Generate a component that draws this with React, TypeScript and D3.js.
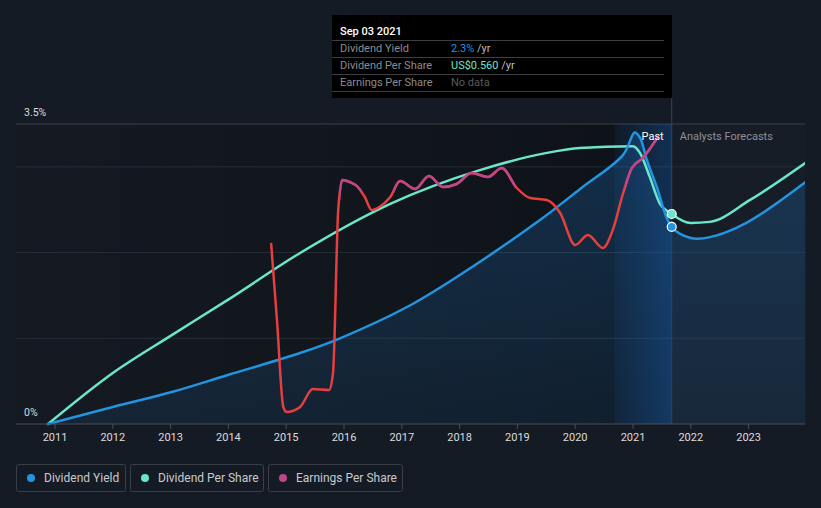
import React from "react";
import * as d3 from "d3";

const W = 821;
const H = 508;

const yearTicks = [2011, 2012, 2013, 2014, 2015, 2016, 2017, 2018, 2019, 2020, 2021, 2022, 2023];

// Dividend Yield (%)
const yieldDates = [2010.88, 2012.0, 2013.02, 2013.99, 2015.24, 2015.93, 2017.09, 2017.95, 2019.39, 2020.08, 2020.83, 2021.03, 2021.12, 2021.24, 2021.41, 2021.67, 2022.0, 2022.33, 2022.97, 2023.98];
const yieldValues = [0, 0.198, 0.373, 0.572, 0.828, 1.0, 1.365, 1.715, 2.38, 2.74, 3.14, 3.4, 3.34, 3.08, 2.77, 2.3, 2.17, 2.18, 2.35, 2.82];

// Dividend Per Share (US$)
const dpsDates = [2010.88, 2012.0, 2013.02, 2013.99, 2015.24, 2016.8, 2018.35, 2019.51, 2020.08, 2021.0, 2021.12, 2021.29, 2021.46, 2021.67, 2022.0, 2022.33, 2023.02, 2023.98];
const dpsValues = [0, 0.136, 0.237, 0.331, 0.456, 0.587, 0.677, 0.723, 0.736, 0.741, 0.723, 0.659, 0.589, 0.56, 0.536, 0.539, 0.597, 0.696];

// Earnings Per Share
const epsDates = [2014.74, 2014.84, 2014.95, 2015.01, 2015.24, 2015.46, 2015.74, 2015.81, 2015.9, 2015.97, 2016.1, 2016.24, 2016.36, 2016.48, 2016.61, 2016.8, 2016.97, 2017.23, 2017.47, 2017.71, 2017.95, 2018.21, 2018.49, 2018.73, 2018.99, 2019.22, 2019.51, 2019.74, 2020.0, 2020.22, 2020.48, 2020.65, 2020.83, 2020.98, 2021.17, 2021.43];
const epsValues = [1.8, 1.04, 0.17, 0.12, 0.17, 0.35, 0.34, 0.51, 2.14, 2.44, 2.42, 2.37, 2.27, 2.14, 2.17, 2.27, 2.43, 2.35, 2.48, 2.37, 2.4, 2.51, 2.47, 2.56, 2.36, 2.26, 2.24, 2.11, 1.79, 1.89, 1.76, 1.94, 2.31, 2.56, 2.66, 2.87];
const epsHighlightRanges = [[2015.93, 2016.31], [2016.85, 2018.96], [2020.86, 2021.43]];

const yLabels = ["0%", "3.5%"];
const legendLabels = ["Dividend Yield", "Dividend Per Share", "Earnings Per Share"];
const tooltipDate = "Sep 03 2021";
const tooltipRows = [
  { label: "Dividend Yield", value: "2.3%", unit: " /yr" },
  { label: "Dividend Per Share", value: "US$0.560", unit: " /yr" },
  { label: "Earnings Per Share", value: "No data", unit: "" },
];
const nowDate = 2021.67;
const pastStart = 2020.68;

const C_BLUE = "#2394df";
const C_TEAL = "#6be6cb";
const C_RED = "#e5403f";
const C_MAG = "#c0468b";
const FONT = "Roboto, 'Noto Sans', sans-serif";

export default function App() {
  const left = 16, right = 805, top = 124, bottom = 424;
  const x = d3.scaleLinear().domain([2010.325, 2023.976]).range([left, right]);
  const yY = d3.scaleLinear().domain([0, 3.5]).range([bottom, top]);
  const yD = d3.scaleLinear().domain([0, 0.8]).range([bottom, top]);
  const yE = d3.scaleLinear().domain([0, 3]).range([bottom, top]);

  const yieldData = yieldDates.map((d, i) => [d, yieldValues[i]] as [number, number]);
  const dpsData = dpsDates.map((d, i) => [d, dpsValues[i]] as [number, number]);
  const epsData = epsDates.map((d, i) => [d, epsValues[i]] as [number, number]);

  const smooth = d3.curveMonotoneX;
  const cr = d3.curveCatmullRom.alpha(0.5);
  const lineY = d3.line<[number, number]>().x(d => x(d[0])).y(d => yY(d[1])).curve(cr);
  const areaY = d3.area<[number, number]>().x(d => x(d[0])).y0(bottom).y1(d => yY(d[1])).curve(cr);
  const lineD = d3.line<[number, number]>().x(d => x(d[0])).y(d => yD(d[1])).curve(smooth);
  const lineE = d3.line<[number, number]>().x(d => x(d[0])).y(d => yE(d[1])).curve(smooth);

  const xNow = x(nowDate);
  const xPast = x(pastStart);
  const gridVals = [1, 2, 3];

  const nowYield = yieldValues[yieldDates.indexOf(nowDate)];
  const nowDps = dpsValues[dpsDates.indexOf(nowDate)];

  const legendBoxes = [
    { x: 16, w: 109, color: C_BLUE },
    { x: 130, w: 133, color: C_TEAL },
    { x: 268, w: 134, color: C_MAG },
  ];

  return (
    <svg width={W} height={H} style={{ position: "absolute", left: 0, top: 0, display: "block" }} fontFamily={FONT}>
      <defs>
        <linearGradient id="pastBg" x1="0" x2="1" y1="0" y2="0">
          <stop offset="0" stopColor="#151a22" />
          <stop offset="1" stopColor="#0e1218" />
        </linearGradient>
        <linearGradient id="areaFill" x1="0" x2="0" y1="0" y2="1">
          <stop offset="0" stopColor="#1f78c8" stopOpacity="0.28" />
          <stop offset="1" stopColor="#1f78c8" stopOpacity="0.12" />
        </linearGradient>
        <linearGradient id="band" x1="0" x2="1" y1="0" y2="0">
          <stop offset="0" stopColor="#1a6fd0" stopOpacity="0.08" />
          <stop offset="1" stopColor="#1a6fd0" stopOpacity="0.33" />
        </linearGradient>
        {epsHighlightRanges.map((r, i) => (
          <clipPath id={`epsHi${i}`} key={i}>
            <rect x={x(r[0])} y={0} width={x(r[1]) - x(r[0])} height={H} />
          </clipPath>
        ))}
        <clipPath id="plotClip">
          <rect x={left} y={0} width={right - left} height={bottom + 2} />
        </clipPath>
      </defs>

      <rect x={0} y={0} width={W} height={H} fill="#151b24" />
      <rect x={left} y={top} width={xNow - left} height={bottom - top} fill="url(#pastBg)" />
      <rect x={xNow} y={top} width={right - xNow} height={bottom - top} fill="#171d27" />

      {gridVals.map(v => (
        <line key={v} x1={left} x2={right} y1={yY(v)} y2={yY(v)} stroke="#262c35" strokeWidth={1} />
      ))}
      <line x1={left} x2={right} y1={top} y2={top} stroke="#3b4049" strokeWidth={1} />

      <path d={areaY(yieldData) || ""} fill="url(#areaFill)" />
      <rect x={xPast} y={top} width={xNow - xPast} height={bottom - top} fill="url(#band)" />
      <line x1={xNow} x2={xNow} y1={98} y2={bottom} stroke="#2b4566" strokeWidth={1} />

      <g clipPath="url(#plotClip)" fill="none" strokeLinecap="round" strokeLinejoin="round">
        <path d={lineD(dpsData) || ""} stroke={C_TEAL} strokeWidth={2.5} />
        <path d={lineY(yieldData) || ""} stroke={C_BLUE} strokeWidth={2.5} />
        <path d={lineE(epsData) || ""} stroke={C_RED} strokeWidth={2.5} />
        {epsHighlightRanges.map((r, i) => (
          <path key={i} d={lineE(epsData) || ""} stroke={C_MAG} strokeWidth={2.5} clipPath={`url(#epsHi${i})`} />
        ))}
      </g>

      <circle cx={xNow} cy={yD(nowDps)} r={4.5} fill={C_TEAL} stroke="#ffffff" strokeWidth={1.2} />
      <circle cx={xNow} cy={yY(nowYield)} r={4.5} fill={C_BLUE} stroke="#ffffff" strokeWidth={1.2} />

      <text x={xNow - 8} y={140} textAnchor="end" fill="#ffffff" fontSize={11}>Past</text>
      <text x={xNow + 8} y={140} fill="#8b9099" fontSize={11}>Analysts Forecasts</text>

      <text x={24} y={116} fill="#dcdcdc" fontSize={10.5}>{yLabels[1]}</text>
      <text x={24} y={416} fill="#dcdcdc" fontSize={10.5}>{yLabels[0]}</text>

      <line x1={left} x2={right} y1={bottom} y2={bottom} stroke="#4a4f57" strokeWidth={1.2} />
      {yearTicks.map(t => (
        <g key={t}>
          <line x1={x(t)} x2={x(t)} y1={bottom} y2={bottom + 5} stroke="#4a4f57" strokeWidth={1} />
          <text x={x(t)} y={441} textAnchor="middle" fill="#dcdcdc" fontSize={11}>{t}</text>
        </g>
      ))}

      <rect x={332} y={15} width={340} height={83} fill="#000000" />
      <text x={340} y={35} fill="#ffffff" fontSize={11} fontWeight={500}>{tooltipDate}</text>
      {[40, 57, 74, 91].map(yy => (
        <line key={yy} x1={332} x2={664} y1={yy + 0.5} y2={yy + 0.5} stroke="#3d3f42" strokeWidth={1} />
      ))}
      {tooltipRows.map((r, i) => (
        <g key={r.label}>
          <text x={340} y={52 + i * 17} fill="#8c8c8c" fontSize={11}>{r.label}</text>
          <text x={451} y={52 + i * 17} fontSize={11}>
            <tspan fill={i === 0 ? C_BLUE : i === 1 ? C_TEAL : "#5b5b5b"}>{r.value}</tspan>
            <tspan fill="#bdbdbd">{r.unit}</tspan>
          </text>
        </g>
      ))}

      {legendBoxes.map((b, i) => (
        <g key={i}>
          <rect x={b.x + 0.5} y={464.5} width={b.w} height={27} rx={2} fill="none" stroke="#3a3f47" strokeWidth={1} />
          <circle cx={b.x + 15} cy={478} r={4} fill={b.color} />
          <text x={b.x + 28} y={482} fill="#c8cacd" fontSize={12}>{legendLabels[i]}</text>
        </g>
      ))}
    </svg>
  );
}
